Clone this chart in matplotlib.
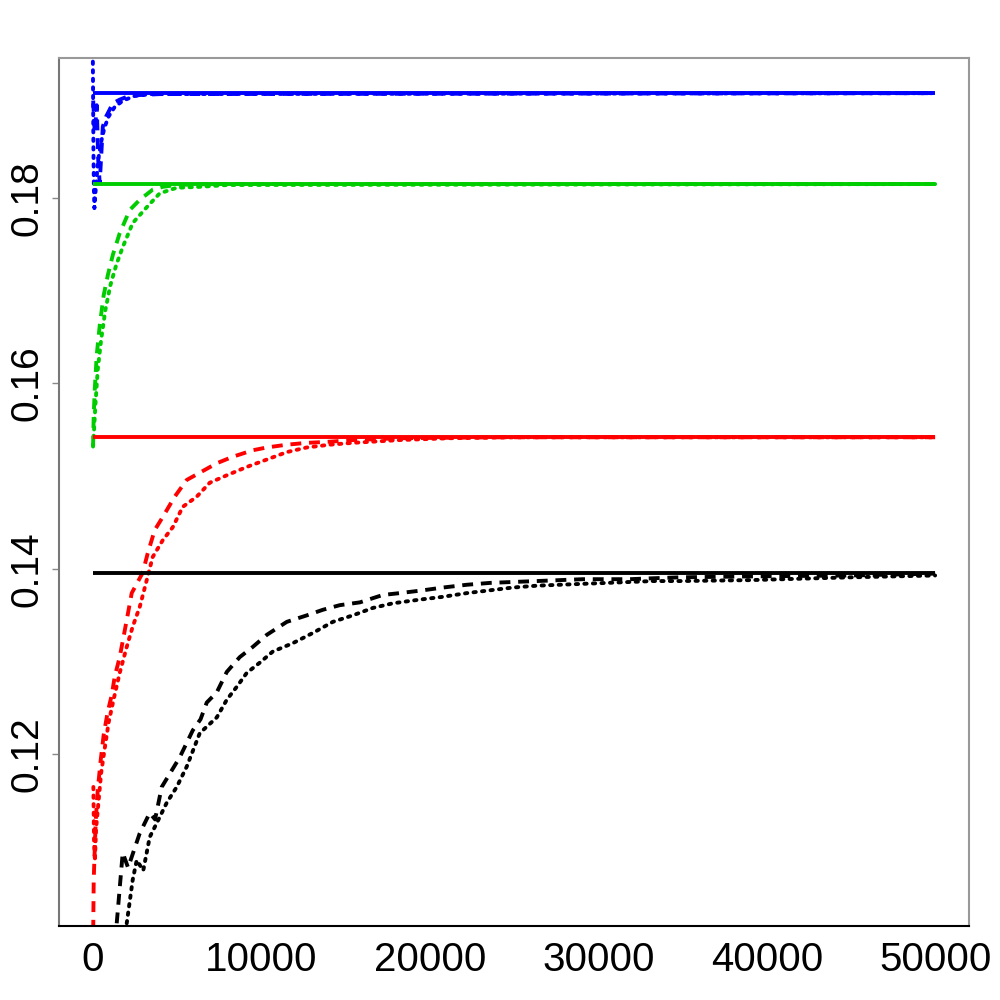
import matplotlib
matplotlib.use('Agg')
import matplotlib.pyplot as plt

# true values (solid horizontal lines)
true_vals = {'black': 0.1396, 'red': 0.1542, 'green': 0.1815, 'blue': 0.1913}

# black series
black_dash_x = [1425, 1781, 2100, 2790, 3384, 3700, 4097, 5165, 5937, 6400, 6768, 7362, 7956,
                8727, 9499, 10330, 11518, 12705, 13655, 14664, 15852, 17217, 18226, 19592,
                20779, 22204, 23570, 24935, 26360, 27725, 29091, 30515, 31881, 33246, 34849,
                39006, 44943, 49990]
black_dash_y = [0.1018, 0.1094, 0.1078, 0.1115, 0.1137, 0.1130, 0.1165, 0.1197, 0.1226, 0.1238,
                0.1256, 0.1267, 0.1289, 0.1305, 0.1316, 0.1329, 0.1343, 0.1350, 0.1356, 0.1361,
                0.1364, 0.1372, 0.1374, 0.1377, 0.1380, 0.1383, 0.1385, 0.1386, 0.1387, 0.1388,
                0.1389, 0.1389, 0.1389, 0.1390, 0.1391, 0.1392, 0.1393, 0.1395]
black_dot_x = [2019, 2375, 2612, 3000, 3384, 3800, 4393, 4987, 5581, 6353, 7362, 7956, 8549,
               9143, 9915, 10687, 11874, 13061, 14249, 15436, 16624, 17811, 19414, 20779,
               22204, 23570, 24935, 26360, 27725, 29091, 30515, 31881, 33246, 34849, 39006,
               44943, 49990]
black_dot_y = [0.1018, 0.1065, 0.1086, 0.1075, 0.1111, 0.1126, 0.1148, 0.1165, 0.1187, 0.1223,
               0.1240, 0.1259, 0.1273, 0.1288, 0.1299, 0.1311, 0.1320, 0.1331, 0.1343, 0.1350,
               0.1358, 0.1363, 0.1367, 0.1370, 0.1374, 0.1377, 0.1380, 0.1382, 0.1383, 0.1384,
               0.1385, 0.1386, 0.1387, 0.1387, 0.1388, 0.1391, 0.1393]

# red series
red_dash_x = [30, 60, 120, 180, 300, 475, 650, 890, 1130, 1306, 1603, 2019, 2315, 2968, 3265,
              3681, 4156, 4868, 5581, 6472, 7362, 8312, 9499, 10330, 11518, 12705, 13893,
              15436, 18226, 24163, 49990]
red_dash_y = [0.1010, 0.1065, 0.1097, 0.1129, 0.1162, 0.1194, 0.1221, 0.1246, 0.1264, 0.1284,
              0.1305, 0.1345, 0.1374, 0.1396, 0.1417, 0.1442, 0.1456, 0.1478, 0.1496, 0.1505,
              0.1514, 0.1521, 0.1528, 0.1531, 0.1534, 0.1536, 0.1537, 0.1539, 0.1541, 0.1542,
              0.1542]
red_dot_x = [40, 80, 130, 200, 350, 500, 700, 950, 1250, 1603, 2019, 2375, 2790, 3206, 3562,
             4156, 4750, 5343, 6175, 6946, 7956, 9143, 10330, 11518, 12705, 14071, 15436,
             18226, 21195, 25350, 49990]
red_dot_y = [0.1165, 0.1105, 0.1085, 0.1120, 0.1150, 0.1180, 0.1205, 0.1235, 0.1260, 0.1288,
             0.1316, 0.1338, 0.1359, 0.1388, 0.1413, 0.1431, 0.1445, 0.1467, 0.1478, 0.1493,
             0.1501, 0.1510, 0.1518, 0.1526, 0.1531, 0.1534, 0.1536, 0.1539, 0.1541, 0.1542,
             0.1542]

# green series
green_dash_x = [20, 60, 120, 240, 420, 650, 900, 1200, 1603, 2197, 2790, 3562, 4156, 4987,
                7000, 49990]
green_dash_y = [0.1532, 0.1566, 0.1593, 0.1631, 0.1663, 0.1695, 0.1717, 0.1739, 0.1762, 0.1787,
                0.1798, 0.1809, 0.1812, 0.1814, 0.1815, 0.1815]
green_dot_x = [20, 80, 160, 300, 500, 750, 1050, 1400, 1781, 2375, 3206, 3978, 4987, 6353,
               8000, 49990]
green_dot_y = [0.1532, 0.1550, 0.1577, 0.1615, 0.1647, 0.1679, 0.1706, 0.1728, 0.1747, 0.1773,
               0.1790, 0.1805, 0.1811, 0.1812, 0.1814, 0.1815]

# blue series
blue_dash_x = [30, 120, 240, 330, 415, 600, 800, 1000, 1187, 1600, 2019, 2790, 4000, 49990]
blue_dash_y = [0.1905, 0.1870, 0.1900, 0.1840, 0.1816, 0.1877, 0.1888, 0.1895, 0.1902, 0.1906,
               0.1909, 0.1911, 0.1912, 0.1913]
blue_dot_x = [10, 25, 45, 70, 100, 160, 260, 380, 520, 700, 950, 1300, 1800, 2500, 3500, 49990]
blue_dot_y = [0.1947, 0.1905, 0.1850, 0.1810, 0.1789, 0.1805, 0.1828, 0.1848, 0.1862, 0.1876,
              0.1888, 0.1898, 0.1905, 0.1910, 0.1912, 0.1913]

x_ticks = [0, 10000, 20000, 30000, 40000, 50000]
y_ticks = [0.12, 0.14, 0.16, 0.18]

COLORS = {'black': 'black', 'red': '#FF0000', 'green': '#00CD00', 'blue': '#0000FF'}

series = [
    ('black', black_dash_x, black_dash_y, black_dot_x, black_dot_y),
    ('red', red_dash_x, red_dash_y, red_dot_x, red_dot_y),
    ('green', green_dash_x, green_dash_y, green_dot_x, green_dot_y),
    ('blue', blue_dash_x, blue_dash_y, blue_dot_x, blue_dot_y),
]

plt.rcParams['font.family'] = ['Liberation Sans', 'DejaVu Sans']

fig = plt.figure(figsize=(10, 10), dpi=100)
ax = fig.add_axes([0.059, 0.074, 0.910, 0.868])

lw = 2.8
for name, dx, dy, px, py in series:
    c = COLORS[name]
    ax.plot(dx, dy, color=c, lw=lw, dashes=(2.8, 2.0), dash_capstyle='butt')
    ax.plot(px, py, color=c, lw=lw, dashes=(0.6, 1.6), dash_capstyle='round')
for name, _, _, _, _ in series:
    ax.plot([0, 50000], [true_vals[name]] * 2, color=COLORS[name], lw=lw,
            solid_capstyle='butt')

ax.set_xlim(-2000, 52000)
ax.set_ylim(0.10151, 0.19509)

ax.set_xticks(x_ticks)
ax.set_xticklabels([str(t) for t in x_ticks])
ax.set_yticks(y_ticks)
ax.set_yticklabels(['%.2f' % t for t in y_ticks], rotation=90, va='center')

ax.tick_params(axis='x', length=0, pad=11, labelsize=29)
ax.tick_params(axis='y', length=5, width=1, color='#888888', pad=5, labelsize=28)

for side in ('left', 'top', 'right'):
    ax.spines[side].set_color('#999999')
    ax.spines[side].set_linewidth(1.5)
ax.spines['left'].set_color('#777777')
ax.spines['bottom'].set_color('black')
ax.spines['bottom'].set_linewidth(1.5)

fig.savefig('out.png', dpi=100, facecolor='white')
